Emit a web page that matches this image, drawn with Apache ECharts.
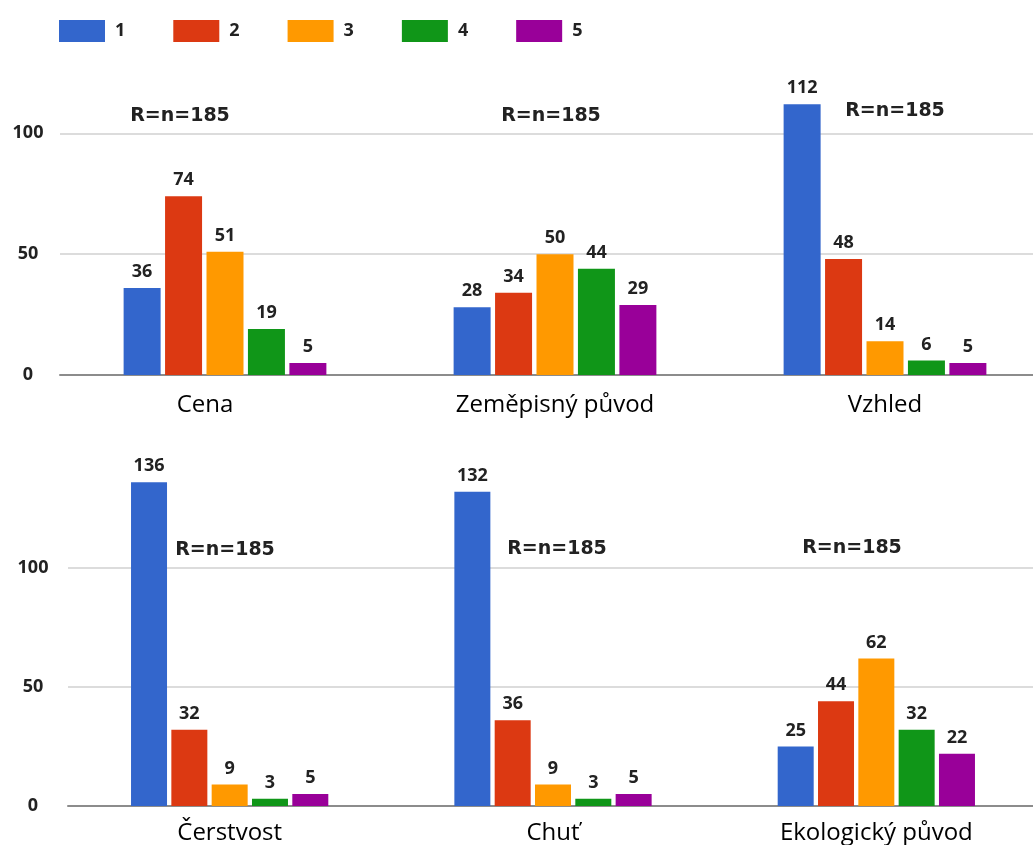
<!DOCTYPE html>
<html>
<head>
<meta charset="utf-8">
<script src="https://cdn.jsdelivr.net/npm/echarts@6/dist/echarts.min.js"></script>
<style>
  html, body { margin: 0; padding: 0; background: #fff; }
  #chart { width: 1033px; height: 845px; }
</style>
</head>
<body>
<div id="chart"></div>
<script>
// ratings shown in the legend
const ratings = ['1', '2', '3', '4', '5'];
const colors = ['#3366cc', '#dc3912', '#ff9900', '#109618', '#990099'];

// top row
const topCategories = ['Cena', 'Zeměpisný původ', 'Vzhled'];
const cena = [36, 74, 51, 19, 5];
const zemepisnyPuvod = [28, 34, 50, 44, 29];
const vzhled = [112, 48, 14, 6, 5];

// bottom row
const bottomCategories = ['Čerstvost', 'Chuť', 'Ekologický původ'];
const cerstvost = [136, 32, 9, 3, 5];
const chut = [132, 36, 9, 3, 5];
const ekologickyPuvod = [25, 44, 62, 32, 22];

const yTicks = [0, 50, 100];
const sampleNote = 'R=n=185';

const topRows = [cena, zemepisnyPuvod, vzhled];
const bottomRows = [cerstvost, chut, ekologickyPuvod];

const font = '"Open Sans", "Noto Sans", sans-serif';
const noteFont = '"DejaVu Sans", sans-serif';

function yAxis(gridIndex, max, margin) {
  return {
    type: 'value',
    gridIndex: gridIndex,
    min: 0,
    max: max,
    interval: 50,
    axisLine: {show: false},
    axisTick: {show: false},
    axisLabel: {
      showMaxLabel: false,
      margin: margin,
      align: 'center',
      padding: [6, 0, 0, 0],
      fontFamily: font,
      fontWeight: 'bold',
      fontSize: 18,
      color: '#222',
      formatter: (v) => (yTicks.indexOf(v) >= 0 ? String(v) : ''),
    },
    splitLine: {
      lineStyle: {
        width: 2,
        // last line is the axis max, which the original does not draw
        color: ['#dcdcdc', '#dcdcdc', '#dcdcdc', 'rgba(0,0,0,0)'],
      },
    },
  };
}

function xAxis(gridIndex, categories, margin) {
  return {
    type: 'category',
    gridIndex: gridIndex,
    data: categories,
    axisTick: {show: false},
    axisLine: {lineStyle: {color: '#8c8c8c', width: 2}},
    axisLabel: {
      margin: margin,
      fontFamily: font,
      fontSize: 24,
      color: '#000',
      formatter: (v) => (v === 'Cena' ? '{shift|' + v + '}' : v),
      rich: {shift: {fontFamily: font, fontSize: 24, color: '#000', padding: [0, 40, 0, 0]}},
    },
  };
}

const series = [];
[topRows, bottomRows].forEach((rows, gi) => {
  ratings.forEach((r, i) => {
    series.push({
      name: r,
      type: 'bar',
      xAxisIndex: gi,
      yAxisIndex: gi,
      data: rows.map((row) => row[i]),
      barWidth: gi === 0 ? 37 : 36,
      barGap: '12%',
      itemStyle: {color: colors[i]},
      label: {
        show: true,
        position: 'top',
        distance: 7,
        fontFamily: font,
        fontWeight: 'bold',
        fontSize: 18,
        color: '#222',
      },
    });
  });
});

function note(x, y) {
  return {
    type: 'text',
    x: x,
    y: y,
    style: {
      text: sampleNote,
      fontFamily: noteFont,
      fontWeight: 'bold',
      fontSize: 19,
      fill: '#222',
      align: 'center',
      verticalAlign: 'middle',
    },
  };
}

const chart = echarts.init(document.getElementById('chart'));
chart.setOption({
  animation: false,
  color: colors,
  legend: {
    data: ratings,
    left: 54,
    top: 15,
    icon: 'rect',
    itemWidth: 46,
    itemHeight: 22,
    itemGap: 48,
    textStyle: {
      fontFamily: font,
      fontWeight: 'bold',
      fontSize: 18,
      color: '#222',
      padding: [0, 0, 0, 5],
    },
  },
  grid: [
    {left: 60, top: 85, width: 990, height: 290, outerBoundsMode: 'none'},
    {left: 68, top: 449, width: 970, height: 357, outerBoundsMode: 'none'},
  ],
  xAxis: [xAxis(0, topCategories, 18), xAxis(1, bottomCategories, 15)],
  yAxis: [yAxis(0, 120, 32), yAxis(1, 150, 35)],
  series: series,
  graphic: [
    note(180, 116), note(551, 116), note(895, 111),
    note(225, 550), note(557, 549), note(852, 548),
  ],
});
</script>
</body>
</html>
